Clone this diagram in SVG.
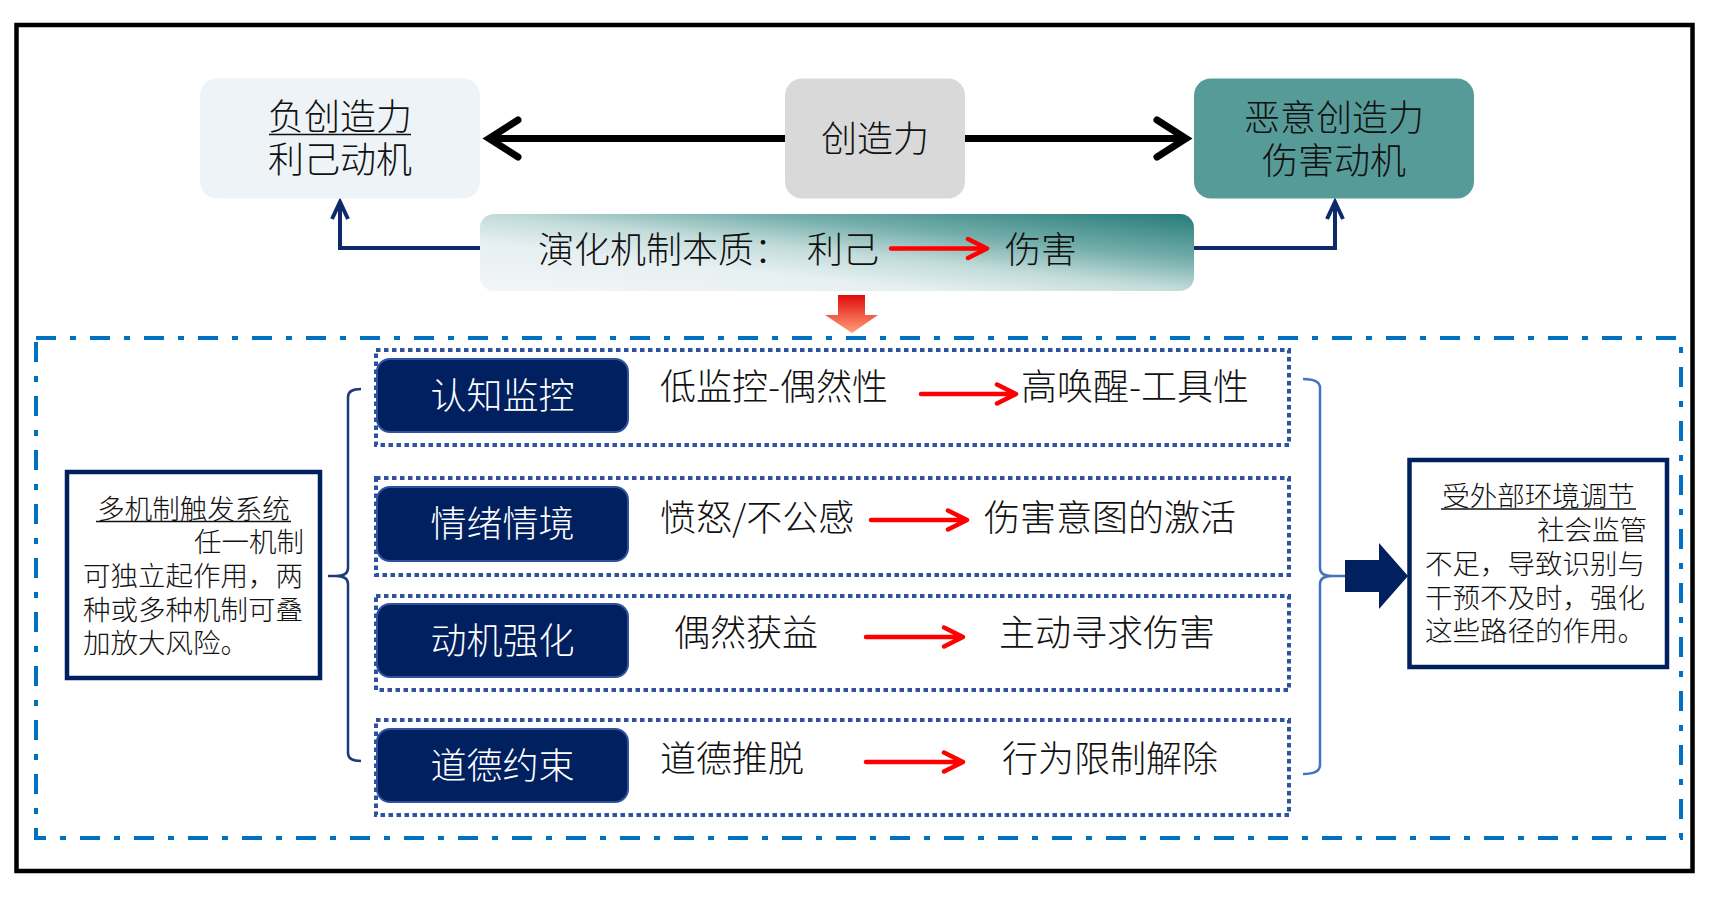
<svg xmlns="http://www.w3.org/2000/svg" width="1710" height="900" viewBox="0 0 1710 900">
<defs>
<linearGradient id="gEvo" x1="1" y1="0" x2="0" y2="1">
<stop offset="0" stop-color="#257b79"/>
<stop offset="0.3" stop-color="#74aeab"/>
<stop offset="0.5" stop-color="#c3dcda"/>
<stop offset="0.68" stop-color="#e6eff1"/>
<stop offset="1" stop-color="#f3f6f9"/>
</linearGradient>
<linearGradient id="gDown" x1="0" y1="0" x2="0" y2="1">
<stop offset="0" stop-color="#e00a0a"/>
<stop offset="1" stop-color="#ffa07a"/>
</linearGradient>
<style>
text{font-family:"Noto Sans CJK SC","Noto Sans",sans-serif;font-weight:300;fill:#111;}
.t36{font-size:36px;}
.t27{font-size:27.5px;}
.w{fill:#ffffff;}
.mid{text-anchor:middle;}
.end{text-anchor:end;}
.row{fill:#fff;stroke:#2f52a0;stroke-width:4;stroke-dasharray:4.5 3.5;}
.lab{fill:#002060;stroke:#2f52a0;stroke-width:2;}
.red{fill:none;stroke:#ff0000;stroke-width:4.5;stroke-linecap:round;stroke-linejoin:round;}
.blk{fill:none;stroke:#000;stroke-width:7;stroke-linecap:round;stroke-linejoin:miter;}
.nav{fill:none;stroke:#0e2a6b;stroke-width:4;}
.ul{stroke:#111;stroke-width:1.6;}
</style>
</defs>

<rect id="frame" x="16.5" y="25" width="1676" height="846" fill="#fff" stroke="#000" stroke-width="4.5"/>

<rect id="system" x="36" y="338" width="1645" height="500" fill="none" stroke="#0070c0" stroke-width="4" stroke-dasharray="20 14 6 14"/>

<g id="connectors">
<path class="blk" d="M787,138.5 L490,138.5 M518,120 L489,138.5 L518,157"/>
<path class="blk" d="M962,138.5 L1185,138.5 M1157,120 L1186,138.5 L1157,157"/>
<path class="nav" d="M481,248 L340,248 L340,204 M332,219 L340,202 L348,219"/>
<path class="nav" d="M1194,248 L1335,248 L1335,204 M1327,219 L1335,202 L1343,219"/>
<path d="M838,295 L865,295 L865,315 L878,315 L852,333 L825,315 L838,315 Z" fill="url(#gDown)"/>
<path d="M361,389 Q348,389 348,397 L348,568 Q348,576 336,576 L328,576 M336,576 Q348,576 348,584 L348,753 Q348,761 361,761" fill="none" stroke="#1f3a7a" stroke-width="2.5"/>
<path d="M1303,379 Q1320,379 1320,388 L1320,568 Q1320,576 1332,576 L1345,576 M1332,576 Q1320,576 1320,584 L1320,765 Q1320,774 1303,774" fill="none" stroke="#4472c4" stroke-width="2.5"/>
<path d="M1345,560 L1379,560 L1379,543 L1408,576 L1379,609 L1379,592 L1345,592 Z" fill="#002060"/>
</g>

<g id="node-neg">
<rect x="200" y="78.5" width="280" height="120" rx="17" fill="#eef3f7"/>
<text class="t36 mid"><tspan x="340" y="130">负创造力</tspan><tspan x="340" y="173">利己动机</tspan></text>
<line class="ul" x1="269" y1="134.5" x2="411" y2="134.5" stroke-width="2"/>
</g>

<g id="node-creativity">
<rect x="785" y="78.5" width="180" height="120" rx="17" fill="#d9d9d9"/>
<text class="t36 mid" x="875" y="152">创造力</text>
</g>

<g id="node-malicious">
<rect x="1194" y="78.5" width="280" height="120" rx="17" fill="#579b99"/>
<text class="t36 mid"><tspan x="1334" y="131">恶意创造力</tspan><tspan x="1334" y="174">伤害动机</tspan></text>
</g>

<g id="node-evolution">
<rect x="480" y="214" width="714" height="77" rx="14" fill="url(#gEvo)"/>
<text class="t36" x="538" y="263">演化机制本质：</text>
<text class="t36" x="807" y="263">利己</text>
<path class="red" d="M891,248.5 L985,248.5 M968,239 L987,248.5 L968,258"/>
<text class="t36" x="1005" y="263">伤害</text>
</g>

<g id="node-trigger">
<rect x="67" y="472" width="253" height="206" fill="#fff" stroke="#002060" stroke-width="4.5"/>
<text class="t27"><tspan class="mid" x="193.5" y="519">多机制触发系统</tspan><tspan class="end" x="304" y="551.5">任一机制</tspan><tspan x="83" y="585.5">可独立起作用，两</tspan><tspan x="83" y="619.5">种或多种机制可叠</tspan><tspan x="83" y="652.5">加放大风险。</tspan></text>
<line class="ul" x1="96" y1="521.5" x2="291" y2="521.5"/>
</g>

<g id="node-row1">
<rect class="row" x="376" y="350" width="913" height="95"/>
<rect class="lab" x="377" y="359" width="251" height="73" rx="13"/>
<text class="t36 mid w" x="502.5" y="409">认知监控</text>
<text class="t36" x="660" y="400">低监控-偶然性</text>
<path class="red" d="M921,394 L1014,394 M997,384.5 L1016,394 L997,403.5"/>
<text class="t36" x="1021" y="400">高唤醒-工具性</text>
</g>

<g id="node-row2">
<rect class="row" x="376" y="478" width="913" height="97"/>
<rect class="lab" x="377" y="487" width="251" height="74" rx="13"/>
<text class="t36 mid w" x="502.5" y="537">情绪情境</text>
<text class="t36" x="660" y="531">愤怒/不公感</text>
<path class="red" d="M871,520 L965,520 M948,510.5 L967,520 L948,529.5"/>
<text class="t36" x="984" y="531">伤害意图的激活</text>
</g>

<g id="node-row3">
<rect class="row" x="376" y="596" width="913" height="94"/>
<rect class="lab" x="377" y="604" width="251" height="73" rx="13"/>
<text class="t36 mid w" x="502.5" y="654">动机强化</text>
<text class="t36" x="674" y="646">偶然获益</text>
<path class="red" d="M866,637 L961,637 M944,627.5 L963,637 L944,646.5"/>
<text class="t36" x="999" y="646">主动寻求伤害</text>
</g>

<g id="node-row4">
<rect class="row" x="376" y="720" width="913" height="95"/>
<rect class="lab" x="377" y="729" width="251" height="73" rx="13"/>
<text class="t36 mid w" x="502.5" y="779">道德约束</text>
<text class="t36" x="660" y="772">道德推脱</text>
<path class="red" d="M866,762 L961,762 M944,752.5 L963,762 L944,771.5"/>
<text class="t36" x="1002" y="772">行为限制解除</text>
</g>

<g id="node-environment">
<rect x="1409.5" y="460" width="257.5" height="207" fill="#fff" stroke="#002060" stroke-width="4.5"/>
<text class="t27"><tspan class="mid" x="1538.5" y="505.5">受外部环境调节</tspan><tspan class="end" x="1647" y="540">社会监管</tspan><tspan x="1425" y="573.5">不足，导致识别与</tspan><tspan x="1425" y="607.5">干预不及时，强化</tspan><tspan x="1425" y="640.5">这些路径的作用。</tspan></text>
<line class="ul" x1="1441" y1="509" x2="1636" y2="509"/>
</g>
</svg>
